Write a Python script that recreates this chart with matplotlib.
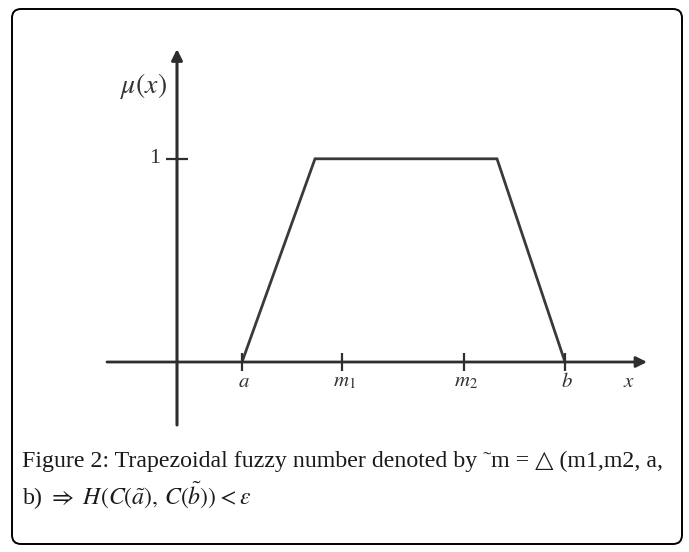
import matplotlib
matplotlib.use("Agg")
import matplotlib.pyplot as plt
from matplotlib.patches import FancyBboxPatch

plt.rcParams["mathtext.fontset"] = "stix"

# Trapezoid vertices (x, membership)
shape_x = [0.65, 1.38, 3.20, 3.88]
shape_mu = [0.0, 1.0, 1.0, 0.0]

# Marked points on the x axis
tick_pos = [0.65, 1.65, 2.87, 3.88]
tick_labels = [r"$a$", r"$m_1$", r"$m_2$", r"$b$"]

# Axis extents
x_left, x_tip = -0.70, 4.70
y_bottom, y_tip = -0.31, 1.54

caption_line1 = "Figure 2: Trapezoidal fuzzy number denoted by \u02dcm = \u25b3 (m1,m2, a,"
caption_line2 = r"b) $\Rightarrow$ $H(C(\tilde{a}),\, C(\tilde{b}))<\varepsilon$"

W, H = 689, 552
fig = plt.figure(figsize=(W / 100, H / 100), dpi=100)
fig.patch.set_facecolor("white")

# Frame and caption layer in pixel units
frame = fig.add_axes([0, 0, 1, 1])
frame.set_xlim(0, W)
frame.set_ylim(H, 0)
frame.axis("off")
frame.add_patch(FancyBboxPatch((12, 9), 670, 535,
                               boxstyle="round,pad=0,rounding_size=9",
                               fill=False, lw=1.4, ec="black"))
cap_font = ["Liberation Serif", "DejaVu Serif"]
frame.text(22, 461, caption_line1, fontsize=17.2, va="center", ha="left",
           family=cap_font, color="#1a1a1a")
frame.text(22, 496, caption_line2, fontsize=17.2, va="center", ha="left",
           family=cap_font, color="#1a1a1a")

# Chart area
px_l, px_r, px_t, px_b = 107, 652, 45, 425
ax = fig.add_axes([px_l / W, 1 - px_b / H, (px_r - px_l) / W, (px_b - px_t) / H])
ax.set_xlim(-0.70, 4.75)
ax.set_ylim(-0.31, 1.56)
ax.axis("off")

line_c = "#2e2e2e"
# x axis with arrow
ax.annotate("", xy=(x_tip, 0), xytext=(x_left, 0),
            arrowprops=dict(arrowstyle="-|>", mutation_scale=16, lw=2.0,
                            color=line_c, shrinkA=0, shrinkB=0))
# y axis with arrow
ax.annotate("", xy=(0, y_tip), xytext=(0, y_bottom),
            arrowprops=dict(arrowstyle="-|>", mutation_scale=16, lw=2.2,
                            color=line_c, shrinkA=0, shrinkB=0))

# trapezoidal membership function
ax.plot(shape_x, shape_mu, color="#3a3a3a", lw=2.0, solid_joinstyle="miter")

# ticks
ax.plot(tick_pos, [0] * len(tick_pos), ls="", marker="|", ms=13, mew=1.6, color=line_c)
ax.plot([0], [1], ls="", marker="_", ms=16, mew=1.6, color=line_c)

for xp, lab in zip(tick_pos, tick_labels):
    ax.text(xp + 0.02, -0.045, lab, fontsize=15, ha="center", va="top", color="#333333")

ax.text(4.52, -0.045, r"$x$", fontsize=15, ha="center", va="top", color="#333333")
ax.text(-0.22, 1.0, "1", fontsize=16, ha="center", va="center", color="#333333",
        family="Liberation Serif")
ax.text(-0.34, 1.36, r"$\mu(x)$", fontsize=20, ha="center", va="center", color="#333333")

fig.savefig("out.png", dpi=100, facecolor="white")
